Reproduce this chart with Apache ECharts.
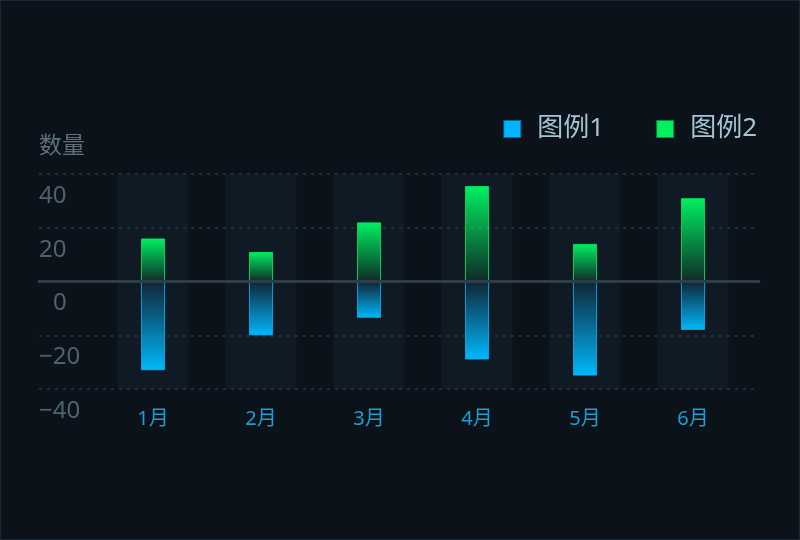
<!DOCTYPE html>
<html><head><meta charset="utf-8">
<script src="https://cdn.jsdelivr.net/npm/echarts@6/dist/echarts.min.js"></script>
<style>
html,body{margin:0;padding:0;background:#0b1219;}
#wrap{position:relative;width:800px;height:540px;}
#c{width:800px;height:540px;}
#frame{position:absolute;left:0;top:0;width:800px;height:540px;box-sizing:border-box;border:1px solid #1a2836;pointer-events:none;}
</style>
</head><body><div id="wrap"><div id="c"></div><div id="frame"></div></div>
<script>
const categories = ['1月','2月','3月','4月','5月','6月'];
const series1Name = '图例1';
const series2Name = '图例2';
const series1Values = [-33, -20, -13.5, -29, -35, -18];
const series2Values = [16, 11, 22, 35.5, 14, 31];
const yTicks = [-40, -20, 0, 20, 40];
const yName = '数量';
const shadowTop = categories.map(() => yTicks[yTicks.length - 1]);
const shadowBottom = categories.map(() => yTicks[0]);

const FONT = "'Noto Sans', 'Noto Sans CJK SC', sans-serif";
const yMin = yTicks[0], yMax = yTicks[yTicks.length - 1], yStep = yTicks[1] - yTicks[0];

const chart = echarts.init(document.getElementById('c'), null, {renderer: 'canvas'});
chart.setOption({
  backgroundColor: '#0b1219',
  textStyle: {fontFamily: FONT},
  legend: {
    right: 38, top: 111,
    icon: 'rect', itemWidth: 16, itemHeight: 16, itemGap: 52,
    textStyle: {color: '#a6c4d4', fontSize: 26, fontFamily: FONT, padding: [0, 0, 0, 12]},
    data: [
      {name: series1Name, itemStyle: {color: '#00b4ff'}},
      {name: series2Name, itemStyle: {color: '#00f060'}}
    ]
  },
  grid: [
    {left: 39, right: 41, top: 174, bottom: 151},
    {left: 99, right: 53, top: 174, bottom: 151}
  ],
  xAxis: [
    {gridIndex: 0, type: 'value', min: 0, max: 1, z: 10,
     axisLine: {show: true, onZero: true, lineStyle: {color: '#2e3d48', width: 3}},
     axisTick: {show: false}, axisLabel: {show: false}, splitLine: {show: false}},
    {gridIndex: 1, type: 'category', data: categories,
     axisLine: {show: false}, axisTick: {show: false},
     axisLabel: {color: '#1b9fd5', fontSize: 20, fontFamily: FONT, margin: 20}},
    {gridIndex: 1, type: 'category', data: categories, show: false}
  ],
  yAxis: [
    {gridIndex: 0, type: 'value', min: yMin, max: yMax, interval: yStep,
     name: yName, nameLocation: 'end', nameGap: 28,
     nameTextStyle: {color: '#5d707c', fontSize: 23, fontFamily: FONT, align: 'left', verticalAlign: 'middle'},
     axisLine: {show: false}, axisTick: {show: false},
     axisLabel: {inside: true, margin: 0, align: 'left', verticalAlign: 'middle',
       color: '#4f636f', fontSize: 24, fontFamily: FONT, padding: [44, 0, 0, 0],
       formatter: v => v === 0 ? '{z|0}' : (v < 0 ? '\u2212' + Math.abs(v) : String(v)),
       rich: {z: {color: '#4f636f', fontSize: 24, fontFamily: FONT, padding: [0, 0, 0, 14]}}},
     splitLine: {show: true, lineStyle: {color: '#1c2e3b', width: 2, type: [3, 5]}}},
    {gridIndex: 1, type: 'value', min: yMin, max: yMax, interval: yStep, show: false,
     splitLine: {show: false}}
  ],
  series: [
    {type: 'bar', xAxisIndex: 2, yAxisIndex: 1, data: shadowTop, barWidth: 71, barGap: '-100%',
     silent: true, z: 1, itemStyle: {color: 'rgba(40,60,80,0.2)'}, legendHoverLink: false},
    {type: 'bar', xAxisIndex: 2, yAxisIndex: 1, data: shadowBottom, barWidth: 71, barGap: '-100%',
     silent: true, z: 1, itemStyle: {color: 'rgba(40,60,80,0.2)'}, legendHoverLink: false},
    {name: series1Name, type: 'bar', xAxisIndex: 1, yAxisIndex: 1, data: series1Values,
     barWidth: 24, barGap: '-100%', z: 3,
     itemStyle: {
       color: new echarts.graphic.LinearGradient(0, 0, 0, 1, [
         {offset: 0, color: 'rgba(0,180,255,0.08)'},
         {offset: 1, color: 'rgba(0,184,250,1)'}
       ]),
       borderColor: 'rgba(0,180,255,0.55)', borderWidth: 1
     }},
    {name: series2Name, type: 'bar', xAxisIndex: 1, yAxisIndex: 1, data: series2Values,
     barWidth: 24, barGap: '-100%', z: 3,
     itemStyle: {
       color: new echarts.graphic.LinearGradient(0, 0, 0, 1, [
         {offset: 0, color: 'rgba(0,240,96,1)'},
         {offset: 1, color: 'rgba(0,240,96,0.08)'}
       ]),
       borderColor: 'rgba(0,240,96,0.55)', borderWidth: 1
     }}
  ]
});
</script></body></html>
